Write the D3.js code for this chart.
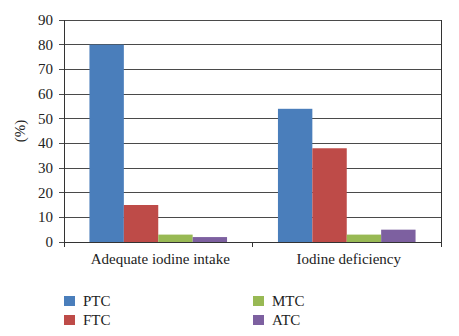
<!DOCTYPE html>
<html><head><meta charset="utf-8">
<script src="https://cdn.jsdelivr.net/npm/d3@7"></script>
<style>body{margin:0;background:#fff}svg{display:block}</style>
</head><body>
<script>
const categories = ["Adequate iodine intake", "Iodine deficiency"];
const seriesNames = ["PTC", "FTC", "MTC", "ATC"];
const PTC = [80, 54];
const FTC = [15, 38];
const MTC = [3, 3];
const ATC = [2, 5];
const yTicks = [0, 10, 20, 30, 40, 50, 60, 70, 80, 90];
const colors = ["#4A7EBB", "#BE4B48", "#98B954", "#7D60A0"];
const values = [PTC, FTC, MTC, ATC];

const W = 459, H = 336;
const pLeft = 64, pRight = 441, pTop = 20, pBottom = 242;
const font = "'Liberation Serif', 'Times New Roman', serif";
const fs = 15;
const svg = d3.select("body").append("svg").attr("width", W).attr("height", H);

const x0 = d3.scaleBand().domain(categories).range([pLeft, pRight]).paddingInner(0.27).paddingOuter(0.135);
const x1 = d3.scaleBand().domain(seriesNames).range([0, x0.bandwidth()]);
const y = d3.scaleLinear().domain([0, 90]).range([pBottom, pTop]);
const xOuter = d3.scaleBand().domain(categories).range([pLeft, pRight]);

// gridlines
svg.append("g").selectAll("line").data(yTicks).join("line")
  .attr("x1", pLeft - 5).attr("x2", pRight)
  .attr("y1", d => y(d)).attr("y2", d => y(d))
  .attr("stroke", "#4a4a4a").attr("stroke-width", 1).attr("shape-rendering", "crispEdges");

// bars
const g = svg.append("g");
categories.forEach((c, i) => {
  seriesNames.forEach((s, j) => {
    g.append("rect")
      .attr("x", x0(c) + x1(s)).attr("width", x1.bandwidth())
      .attr("y", y(values[j][i])).attr("height", y(0) - y(values[j][i]))
      .attr("fill", colors[j]);
  });
});

// axes lines
svg.append("line").attr("x1", pLeft).attr("x2", pLeft).attr("y1", pTop).attr("y2", pBottom + 5)
  .attr("stroke", "#333").attr("shape-rendering", "crispEdges");
svg.append("line").attr("x1", pRight).attr("x2", pRight).attr("y1", pTop).attr("y2", pBottom + 5)
  .attr("stroke", "#333").attr("shape-rendering", "crispEdges");
svg.append("line").attr("x1", pLeft).attr("x2", pRight).attr("y1", pBottom).attr("y2", pBottom)
  .attr("stroke", "#333").attr("shape-rendering", "crispEdges");
// x ticks between categories
const xb = [pLeft, xOuter(categories[1]), pRight];
svg.append("g").selectAll("line").data(xb).join("line")
  .attr("x1", d => d).attr("x2", d => d).attr("y1", pBottom).attr("y2", pBottom + 5)
  .attr("stroke", "#333").attr("shape-rendering", "crispEdges");

// y labels
svg.append("g").selectAll("text").data(yTicks).join("text")
  .attr("x", pLeft - 11).attr("y", d => y(d) + 5)
  .attr("text-anchor", "end").attr("font-family", font).attr("font-size", fs)
  .attr("fill", "#222").text(d => d);

// x labels
svg.append("g").selectAll("text").data(categories).join("text")
  .attr("x", d => x0(d) + x0.bandwidth() / 2 + 2).attr("y", 264)
  .attr("text-anchor", "middle").attr("font-family", font).attr("font-size", fs)
  .attr("fill", "#222").text(d => d);

// y title
svg.append("text").attr("transform", `translate(25,${(pTop + pBottom) / 2}) rotate(-90)`)
  .attr("text-anchor", "middle").attr("font-family", font).attr("font-size", fs)
  .attr("fill", "#222").text("(%)");

// legend
const legPos = [[64, 296], [64, 315], [253, 296], [253, 315]];
seriesNames.forEach((s, j) => {
  const [lx, ly] = legPos[j];
  svg.append("rect").attr("x", lx).attr("y", ly).attr("width", 11).attr("height", 10).attr("fill", colors[j]);
  svg.append("text").attr("x", lx + 19).attr("y", ly + 10).attr("font-family", font).attr("font-size", fs)
    .attr("fill", "#222").text(s);
});
</script>
</body></html>
